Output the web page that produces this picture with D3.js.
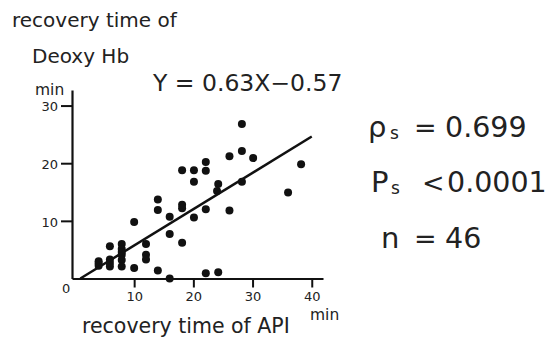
<!DOCTYPE html>
<html>
<head>
<meta charset="utf-8">
<script src="https://cdn.jsdelivr.net/npm/d3@7"></script>
<style>
  body { margin: 0; background: #fff; }
  svg { font-family: "DejaVu Sans", sans-serif; }
</style>
</head>
<body>
<div id="chart"></div>
<script>
// recovery time of API (min)
const apiTimes = [28.2, 28.2, 26.1, 30.1, 38.2, 22.1, 18.1, 20.1, 22.1, 20.1,
    24.2, 24.0, 28.2, 36.0, 26.1, 22.1, 20.1, 14.0, 14.0, 18.1,
    18.1, 16.0, 10.0, 16.0, 18.1, 12.0, 12.0, 12.0, 5.9, 7.9,
    7.9, 7.9, 7.9, 7.9, 5.9, 5.9, 4.0, 4.0, 10.0, 14.0,
    16.0, 22.1, 24.2, 7.9, 5.9, 4.0];
// recovery time of Deoxy Hb (min)
const deoxyTimes = [26.8, 22.1, 21.2, 20.9, 19.8, 20.2, 18.8, 18.8, 18.7, 16.8,
    16.4, 15.2, 16.8, 14.9, 11.8, 12.0, 10.6, 13.7, 11.9, 12.8,
    12.2, 10.7, 9.8, 7.7, 6.2, 6.0, 4.1, 3.3, 5.6, 6.0,
    5.1, 4.1, 3.2, 2.1, 3.3, 2.1, 3.0, 2.2, 1.8, 1.4,
    0.0, 0.9, 1.1, 4.6, 2.7, 2.6];

const xTicks = [10, 20, 30, 40];
const yTicks = [10, 20, 30];
const slope = 0.63;
const intercept = -0.57;
const fitRange = [-intercept / slope, 40];

const width = 559, height = 340;

const svg = d3.select("#chart").append("svg")
    .attr("width", width)
    .attr("height", height);

const x_scale = d3.scaleLinear().domain([-0.5, 41.9]).range([72, 323]);
const y_scale = d3.scaleLinear().domain([0, 32.7]).range([278.5, 90]);

// axes
const xAxis = d3.axisBottom(x_scale)
    .tickValues(xTicks)
    .tickSize(9)
    .tickPadding(4)
    .tickSizeOuter(0);
const yAxis = d3.axisLeft(y_scale)
    .tickValues(yTicks)
    .tickSize(11)
    .tickPadding(3)
    .tickSizeOuter(0);

const x_axis = svg.append("g")
    .attr("transform", "translate(0," + y_scale(0) + ")")
    .call(xAxis);
const y_axis = svg.append("g")
    .attr("transform", "translate(" + x_scale(-0.5) + ",0)")
    .call(yAxis);

[x_axis, y_axis].forEach(g => {
    g.select(".domain").attr("stroke", "#111").attr("stroke-width", 2.2);
    g.selectAll(".tick line").attr("stroke", "#111").attr("stroke-width", 2);
    g.selectAll(".tick text")
        .attr("fill", "#222")
        .style("font-family", "DejaVu Sans, sans-serif")
        .style("font-size", "13px");
});
y_axis.selectAll(".tick text").attr("dy", "0.4em");

svg.append("text").attr("x", 62).attr("y", 293)
    .style("font-size", "13px").attr("fill", "#222").text("0");
svg.append("text").attr("x", 35).attr("y", 95)
    .style("font-size", "15.5px").attr("fill", "#222").text("min");
svg.append("text").attr("x", 310).attr("y", 320)
    .style("font-size", "15.5px").attr("fill", "#222").text("min");

// points
const pts = apiTimes.map((v, i) => ({ x: v, y: deoxyTimes[i] }));
svg.append("g").selectAll("circle").data(pts).enter()
    .append("circle")
    .attr("cx", d => x_scale(d.x))
    .attr("cy", d => y_scale(d.y))
    .attr("r", 4)
    .attr("fill", "#111");

// regression line
svg.append("line")
    .attr("x1", x_scale(fitRange[0]))
    .attr("y1", y_scale(slope * fitRange[0] + intercept))
    .attr("x2", x_scale(fitRange[1]))
    .attr("y2", y_scale(slope * fitRange[1] + intercept))
    .attr("stroke", "#111")
    .attr("stroke-width", 2.5);

// labels
svg.append("text").attr("x", 12).attr("y", 27)
    .style("font-size", "20px").attr("fill", "#222").text("recovery time of");
svg.append("text").attr("x", 32).attr("y", 63)
    .style("font-size", "20px").attr("fill", "#222").text("Deoxy Hb");
svg.append("text").attr("x", 82).attr("y", 333)
    .style("font-size", "20.5px").attr("fill", "#222").text("recovery time of API");
svg.append("text").attr("x", 153).attr("y", 91)
    .style("font-size", "23.5px").attr("fill", "#222").text("Y = 0.63X\u22120.57");

// statistics block
const stats = [
    { sym: "\u03c1", sub: "s", op: "=", val: "0.699", y: 137, sx: 368, subx: 390 },
    { sym: "P", sub: "s", op: "<", val: "0.0001", y: 192, sx: 371, subx: 391 },
    { sym: "n", sub: "", op: "=", val: "46", y: 248, sx: 381, subx: 0 }
];
const statG = svg.append("g").attr("fill", "#222");
stats.forEach(s => {
    statG.append("text").attr("x", s.sx).attr("y", s.y)
        .style("font-size", "29px")
        .text(s.sym);
    if (s.sub) {
        statG.append("text").attr("x", s.subx).attr("y", s.y + 2)
            .style("font-size", "17px").text(s.sub);
    }
    statG.append("text").attr("x", s.op === "<" ? 422 : 414).attr("y", s.y)
        .style("font-size", "27px").text(s.op);
    statG.append("text").attr("x", s.op === "<" ? 447 : 445).attr("y", s.y)
        .style("font-size", "28.5px").text(s.val);
});
</script>
</body>
</html>
